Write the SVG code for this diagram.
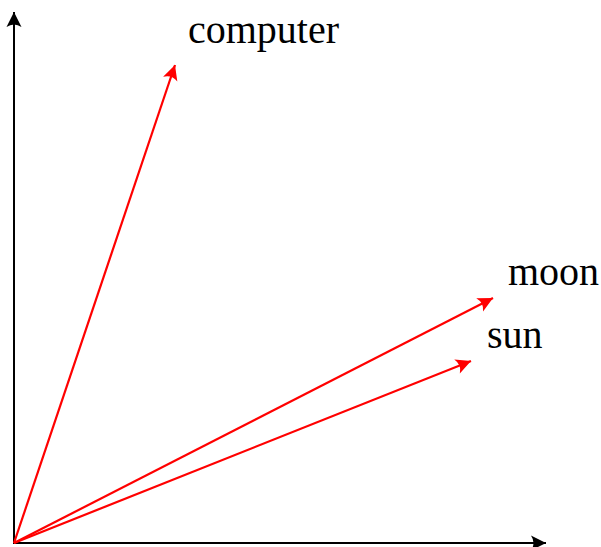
<svg xmlns="http://www.w3.org/2000/svg" width="601" height="547" viewBox="0 0 601 547">
<style>
.ax{stroke:#000;stroke-width:2;fill:none}
.v{stroke:#f00;stroke-width:2.2;fill:none}
.lbl{font-family:"Liberation Serif","DejaVu Serif",serif;font-size:40px;fill:#000}
</style>
<defs>
<marker id="ak" markerUnits="userSpaceOnUse" markerWidth="20" markerHeight="20" refX="2" refY="0" viewBox="-12 -7 16 14" orient="auto">
<path d="M2,0 L-10,-6 Q-6,0 -10,6 Z" fill="#000"/>
</marker>
<marker id="ar" markerUnits="userSpaceOnUse" markerWidth="20" markerHeight="20" refX="2" refY="0" viewBox="-12 -7 16 14" orient="auto">
<path d="M2,0 L-10,-6 Q-6,0 -10,6 Z" fill="#f00"/>
</marker>
</defs>
<g id="axes">
<line class="ax" x1="14" y1="543" x2="14" y2="12" marker-end="url(#ak)"/>
<line class="ax" x1="13" y1="543" x2="546" y2="543" marker-end="url(#ak)"/>
</g>
<g id="connectors">
<line class="v" x1="14" y1="543" x2="175" y2="65" marker-end="url(#ar)"/>
<line class="v" x1="14" y1="543" x2="493" y2="298" marker-end="url(#ar)"/>
<line class="v" x1="14" y1="543" x2="471" y2="361" marker-end="url(#ar)"/>
</g>
<g id="computer"><text class="lbl" x="188" y="43">computer</text></g>
<g id="moon"><text class="lbl" x="508" y="285">moon</text></g>
<g id="sun"><text class="lbl" x="487" y="348">sun</text></g>
</svg>
